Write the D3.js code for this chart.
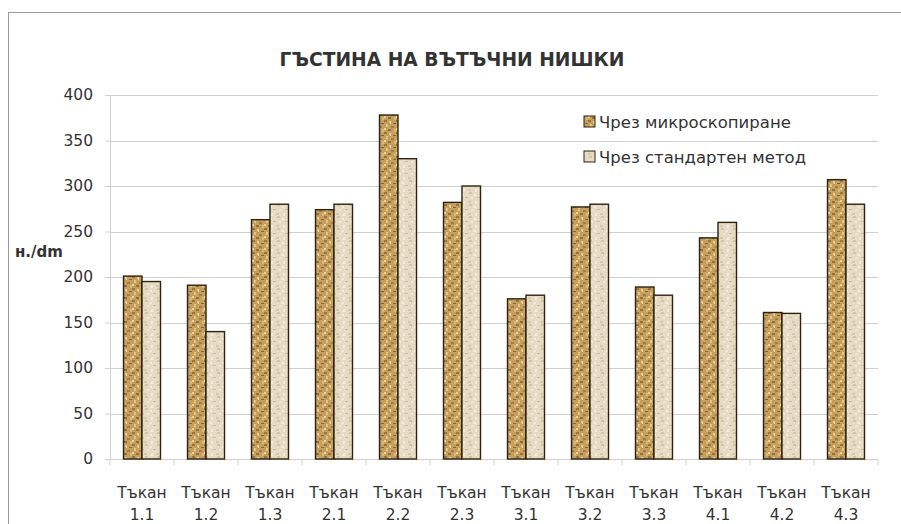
<!DOCTYPE html>
<html>
<head>
<meta charset="utf-8">
<script src="https://cdn.jsdelivr.net/npm/d3@7"></script>
<style>
  body { margin: 0; background: #fff; }
  svg text { font-family: "DejaVu Sans", "Open Sans", sans-serif; fill: #333; }
</style>
</head>
<body>
<div id="chart"></div>
<script>
const categories = ["1.1", "1.2", "1.3", "2.1", "2.2", "2.3", "3.1", "3.2", "3.3", "4.1", "4.2", "4.3"];
const microValues = [201, 191, 263, 274, 378, 282, 176, 277, 189, 243, 161, 307];
const standardValues = [195, 140, 280, 280, 330, 300, 180, 280, 180, 260, 160, 280];
const seriesNames = ["Чрез микроскопиране", "Чрез стандартен метод"];
const yTicks = [0, 50, 100, 150, 200, 250, 300, 350, 400];

const width = 901, height = 524;
const margin = {top: 95, right: 23, bottom: 65, left: 110};

const svg = d3.select("#chart").append("svg")
    .attr("width", width)
    .attr("height", height);

// textures for the bars
const defs = svg.append("defs");
function texture(id, base, specks) {
    const p = defs.append("pattern")
        .attr("id", id)
        .attr("patternUnits", "userSpaceOnUse")
        .attr("width", 12).attr("height", 12);
    p.append("rect").attr("width", 12).attr("height", 12).attr("fill", base);
    specks.forEach(s => {
        p.append("rect")
            .attr("x", s[0]).attr("y", s[1])
            .attr("width", s[2]).attr("height", s[3])
            .attr("fill", s[4]);
    });
}
texture("tex-micro", "#c59f5f", [
    [0, 0, 3, 2, "#9c7440"], [5, 1, 2, 2, "#e8cf8a"], [9, 3, 3, 1, "#8a6535"],
    [2, 4, 2, 3, "#e3c47c"], [7, 6, 3, 2, "#a57c45"], [0, 8, 2, 2, "#ead493"],
    [4, 9, 3, 2, "#93703e"], [10, 9, 2, 3, "#d9b870"], [6, 3, 1, 1, "#f3e0a3"]
]);
texture("tex-std", "#e6dbc5", [
    [1, 0, 3, 2, "#d3c4a6"], [6, 2, 2, 2, "#f4ecdc"], [9, 5, 3, 1, "#cfbfa0"],
    [3, 5, 2, 2, "#f1e9d8"], [0, 9, 3, 2, "#d8caae"], [7, 9, 2, 3, "#f3ecdc"]
]);

// chart frame
svg.append("rect")
    .attr("x", 8.5).attr("y", 12.5)
    .attr("width", 900).attr("height", 520)
    .attr("fill", "none")
    .attr("stroke", "#9a9a9a");

const x = d3.scaleBand()
    .domain(categories)
    .range([margin.left, width - margin.right]);

const y = d3.scaleLinear()
    .domain([0, 400])
    .range([height - margin.bottom, margin.top]);

// gridlines
svg.append("g")
    .selectAll("line")
    .data(yTicks.filter(d => d > 0))
    .enter().append("line")
    .attr("x1", margin.left).attr("x2", width - margin.right)
    .attr("y1", d => Math.round(y(d)) + 0.5).attr("y2", d => Math.round(y(d)) + 0.5)
    .attr("stroke", "#d0d0d0");

// y axis
const yAxis = svg.append("g")
    .attr("transform", "translate(" + margin.left + ",0)")
    .call(d3.axisLeft(y).tickValues(yTicks).tickSize(5).tickPadding(12));
yAxis.select(".domain").attr("stroke", "#d0d0d0");
yAxis.selectAll(".tick line").attr("stroke", "#d0d0d0");
yAxis.selectAll("text").style("font-size", "15.5px").attr("fill", "#333");

// x axis
const xAxis = svg.append("g")
    .attr("transform", "translate(0," + y(0) + ")")
    .call(d3.axisBottom(x).tickSize(0).tickFormat(""));
xAxis.select(".domain").attr("stroke", "#cfcfcf");
xAxis.selectAll(".sep")
    .data(categories.concat(["end"]))
    .enter().append("line")
    .attr("x1", (d, i) => margin.left + i * x.bandwidth())
    .attr("x2", (d, i) => margin.left + i * x.bandwidth())
    .attr("y1", 0).attr("y2", 6)
    .attr("stroke", "#cfcfcf");

const xLabels = svg.append("g").selectAll("text")
    .data(categories)
    .enter().append("text")
    .attr("text-anchor", "middle")
    .style("font-size", "15.5px");
xLabels.append("tspan")
    .attr("x", d => x(d) + x.bandwidth() / 2)
    .attr("y", 498)
    .text("Тъкан");
xLabels.append("tspan")
    .attr("x", d => x(d) + x.bandwidth() / 2)
    .attr("y", 520)
    .text(d => d);

// bars
const barW = 18.5;
const series = [
    {values: microValues, fill: "url(#tex-micro)", offset: -barW},
    {values: standardValues, fill: "url(#tex-std)", offset: 0}
];
series.forEach(s => {
    svg.append("g").selectAll("rect")
        .data(categories)
        .enter().append("rect")
        .attr("x", (d, i) => x(d) + x.bandwidth() / 2 + s.offset)
        .attr("y", (d, i) => y(s.values[i]))
        .attr("width", barW)
        .attr("height", (d, i) => y(0) - y(s.values[i]))
        .attr("fill", s.fill)
        .attr("stroke", "#2e2110")
        .attr("stroke-width", 1.4);
});

// title
svg.append("text")
    .attr("x", 452).attr("y", 66)
    .attr("text-anchor", "middle")
    .attr("textLength", 345)
    .attr("lengthAdjust", "spacingAndGlyphs")
    .style("font-size", "19px")
    .style("font-weight", "bold")
    .attr("fill", "#222")
    .text("ГЪСТИНА НА ВЪТЪЧНИ НИШКИ");

// y axis label
svg.append("text")
    .attr("x", 15).attr("y", 257)
    .style("font-size", "15px")
    .style("font-weight", "bold")
    .attr("fill", "#222")
    .text("н./dm");

// legend
const legend = svg.append("g");
const fills = ["url(#tex-micro)", "url(#tex-std)"];
seriesNames.forEach((name, i) => {
    const ly = 128 + i * 35;
    legend.append("rect")
        .attr("x", 584).attr("y", ly - 12)
        .attr("width", 11).attr("height", 11)
        .attr("fill", fills[i])
        .attr("stroke", "#2e2110");
    legend.append("text")
        .attr("x", 599).attr("y", ly)
        .style("font-size", "16.5px")
        .text(name);
});
</script>
</body>
</html>
